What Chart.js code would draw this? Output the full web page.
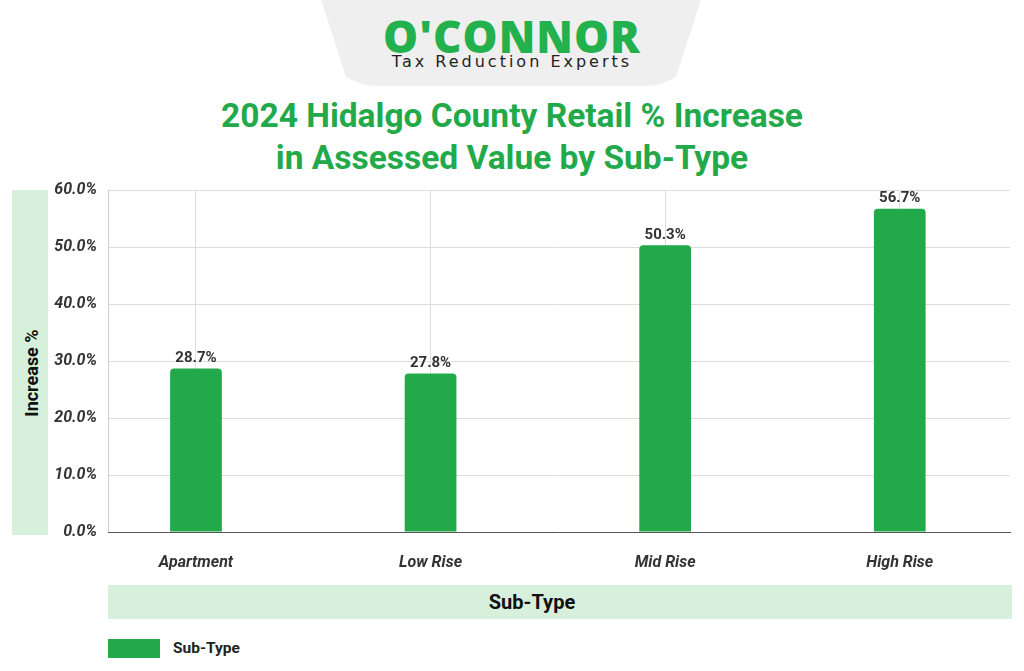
<!DOCTYPE html>
<html><head><meta charset="utf-8">
<script src="https://cdn.jsdelivr.net/npm/chart.js@4/dist/chart.umd.min.js"></script>
<style>
body{margin:0;width:1024px;height:671px;background:#fff;font-family:Roboto,sans-serif;position:relative;overflow:hidden}
#c{position:absolute;left:0;top:0}
.logoBg{position:absolute;left:318px;top:-10px;width:386px;height:96px;background:#efefef;border-radius:0 0 60px 60px;clip-path:polygon(0 0,100% 0,92% 100%,8% 100%)}
.logo{position:absolute;left:0;width:1024px;text-align:center;top:6px;font:900 44px "Open Sans",Roboto,sans-serif;color:#22b14c;letter-spacing:1px}
.tag{position:absolute;left:0;width:1024px;text-align:center;top:52px;font:16px "DejaVu Sans",sans-serif;letter-spacing:3px;color:#222}
.title{position:absolute;left:0;width:1024px;text-align:center;top:95px;font:bold 33.5px Roboto,sans-serif;color:#22a94a;line-height:42px}
.ybox{position:absolute;left:12px;top:190px;width:36px;height:345px;background:#d6f0db}
.ylab{position:absolute;left:31px;top:373px;transform:translate(-50%,-50%) rotate(-90deg);font:bold 18px Roboto,sans-serif;white-space:nowrap;color:#111}
.xbox{position:absolute;left:108px;top:585px;width:904px;height:34px;background:#d6f0db;font:bold 20px Roboto,sans-serif;line-height:34px;color:#111}
.xbox span{position:absolute;left:424px;transform:translateX(-50%)}
.leg{position:absolute;left:108px;top:639px;width:52px;height:19px;background:#22a94a}
.legt{position:absolute;left:173px;top:639px;font:bold 15.5px Roboto,sans-serif;line-height:19px;color:#222}
</style></head><body>
<div class="logoBg"></div>
<div class="logo">O'CONNOR</div>
<div class="tag">Tax Reduction Experts</div>
<div class="title">2024 Hidalgo County Retail % Increase<br>in Assessed Value by Sub-Type</div>
<div class="ybox"></div><div class="ylab">Increase %</div>
<div class="xbox"><span>Sub-Type</span></div>
<div class="leg"></div><div class="legt">Sub-Type</div>
<canvas id="c" width="1024" height="671"></canvas>
<script>
const categories=["Apartment","Low Rise","Mid Rise","High Rise"];
const values=[28.7,27.8,50.3,56.7];
const yTicks=[0,10,20,30,40,50,60];
const labelsPlugin={id:'vals',afterDatasetsDraw(ch){const ctx=ch.ctx;ctx.save();ctx.font='bold 15px Roboto';ctx.fillStyle='#333';ctx.textAlign='center';ctx.textBaseline='bottom';
ch.getDatasetMeta(0).data.forEach((b,i)=>ctx.fillText(values[i].toFixed(1)+'%',b.x,b.y-3));ctx.restore();}};
new Chart(document.getElementById('c'),{type:'bar',
data:{datasets:[{label:'Sub-Type',data:values.map((v,i)=>({x:i,y:v})),backgroundColor:'#22a94a',borderRadius:{topLeft:4,topRight:4},borderSkipped:'bottom',barPercentage:0.9,categoryPercentage:0.245}]},
options:{responsive:false,animation:false,layout:{padding:{top:190,right:14,left:0,bottom:0}},
plugins:{legend:{display:false},tooltip:{enabled:false}},
scales:{
y:{min:0,max:60,afterBuildTicks(s){s.ticks=yTicks.map(v=>({value:v}));},afterFit(s){s.width=108;},
ticks:{callback:v=>v.toFixed(1)+'%',font:{family:'Roboto',size:16,weight:'bold',style:'italic'},color:'#333',padding:11},
grid:{color:'#dddddd',drawTicks:false},border:{display:true,color:'#cccccc'}},
x:{type:'linear',offset:false,min:-0.375,max:3.47,afterBuildTicks(s){s.ticks=categories.map((c,i)=>({value:i}));},afterFit(s){s.height=139;},
ticks:{callback:(v,i)=>categories[i],font:{family:'Roboto',size:16,weight:'bold',style:'italic'},color:'#333',padding:21},
grid:{color:'#dddddd',drawTicks:false,offset:false},border:{color:'#555'}}}},
plugins:[labelsPlugin]});
</script></body></html>
